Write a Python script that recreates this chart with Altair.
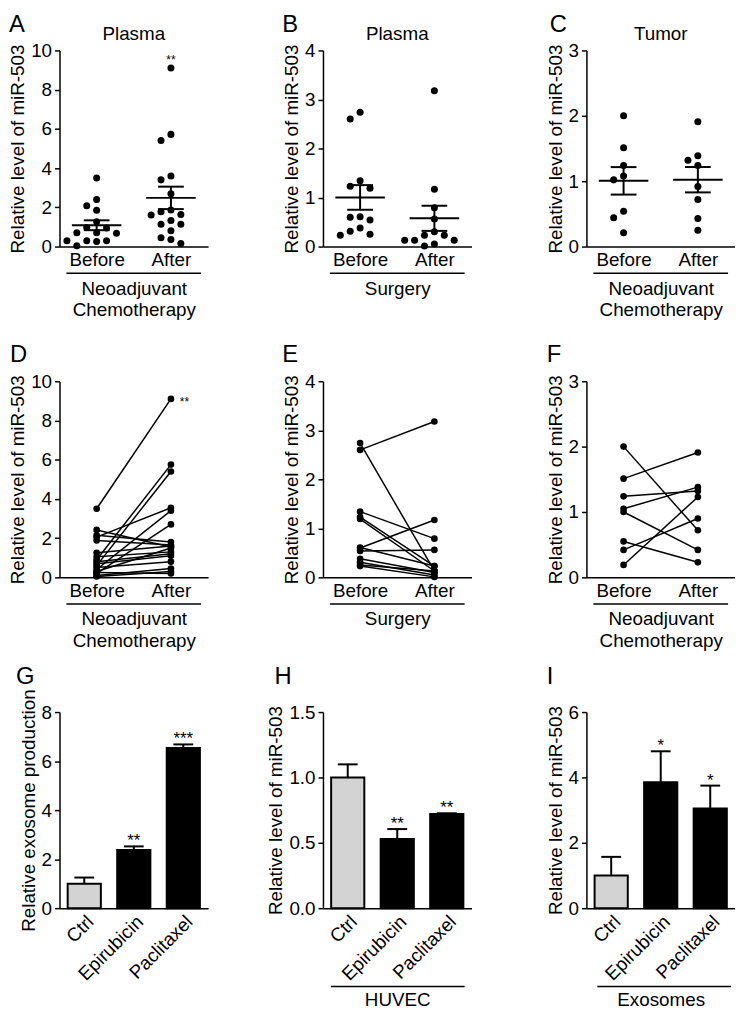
import altair as alt
import pandas as pd

# ---------------- data ----------------
A_before = [3.50, 2.40, 2.08, 1.85, 1.27, 0.97, 0.95, 0.70, 0.68, 0.70, 0.30, 0.29, 0.26, 0.30, 0.04]
A_after = [9.10, 5.72, 5.41, 3.60, 3.40, 2.69, 1.86, 1.78, 1.64, 1.61, 1.33, 1.14, 1.14, 0.81, 0.45, 0.36, 0.15]

B_before = [2.74, 2.60, 1.34, 1.23, 1.19, 0.61, 0.60, 0.54, 0.38, 0.31, 0.25, 0.23]
B_after = [3.18, 1.17, 0.79, 0.56, 0.30, 0.23, 0.23, 0.13, 0.13, 0.13, 0.05, 0.01]

C_before = [2.00, 1.51, 1.24, 1.08, 1.02, 0.54, 0.44, 0.21]
C_after = [1.91, 1.39, 1.32, 1.24, 0.92, 0.72, 0.43, 0.25]

D_before = [3.50, 0.90, 0.60, 2.05, 0.40, 0.20, 2.42, 2.15, 1.88, 1.25, 1.05, 0.80, 0.70, 0.50, 0.30, 0.10, 0.05, 0.25]
D_after = [9.10, 5.75, 5.40, 3.55, 3.40, 2.70, 1.55, 1.80, 1.65, 1.60, 1.30, 1.20, 1.10, 0.80, 1.50, 0.45, 0.30, 0.20]

E_before = [2.60, 2.74, 1.34, 1.23, 1.19, 0.60, 0.54, 0.61, 0.38, 0.31, 0.23, 0.25]
E_after = [3.18, 0.13, 0.79, 0.23, 0.13, 1.17, 0.56, 0.23, 0.10, 0.05, 0.01, 0.13]

F_before = [2.00, 1.51, 1.24, 1.05, 1.00, 0.55, 0.42, 0.19]
F_after = [0.72, 1.91, 1.32, 1.38, 0.42, 0.23, 0.90, 1.23]

bar_cats = ["Ctrl", "Epirubicin", "Paclitaxel"]
G_mean = [1.00, 2.37, 6.53]
G_err = [0.25, 0.15, 0.15]
G_star = ["", "**", "***"]
H_mean = [1.00, 0.53, 0.72]
H_err = [0.10, 0.075, 0.006]
H_star = ["", "**", "**"]
I_mean = [1.00, 3.85, 3.05]
I_err = [0.57, 0.95, 0.70]
I_star = ["", "*", "*"]

YTITLE = "Relative level of miR-503"
NEO = ["Neoadjuvant", "Chemotherapy"]

# ---------------- layout constants ----------------
W, H = 150, 198
FONT = "Liberation Sans"
FS = 19


def swarm_offsets(vals, ymax):
    """Simple beeswarm: returns horizontal offsets (in x data units)."""
    ppu = H / ymax
    placed = []
    offs = [0.0] * len(vals)
    order = sorted(range(len(vals)), key=lambda i: -vals[i])
    for i in order:
        y = vals[i] * ppu
        x = 0.0
        for k in [0, -1, 1, -2, 2, -3, 3, -4, 4]:
            x = k * 10.0
            if all((x - px) ** 2 + (y - py) ** 2 >= 8.5 ** 2 for py, px in placed):
                break
        placed.append((y, x))
        offs[i] = x
    return [o / (W / 2.0) for o in offs]


def one(**kw):
    return pd.DataFrame({k: [v] for k, v in kw.items()})


def letter_layer(letter, dx, dy=-38):
    return alt.Chart(one(t=letter)).mark_text(
        fontSize=24, align="left", baseline="top", font=FONT, color="black"
    ).encode(text="t:N", x=alt.value(dx), y=alt.value(dy))


def top_title_layer(t):
    return alt.Chart(one(t=t)).mark_text(
        fontSize=FS, align="center", baseline="alphabetic", font=FONT, color="black"
    ).encode(text="t:N", x=alt.value(W / 2), y=alt.value(-11))


def bracket_layer(x0, x1, y):
    return alt.Chart(one(a=0)).mark_rule(color="black", strokeWidth=1.5).encode(
        x=alt.value(x0), x2=alt.value(x1), y=alt.value(y)
    )


def xy_enc(ymax, yvals, xtitle):
    xs = alt.Scale(domain=[0, 2], nice=False, zero=False)
    ys = alt.Scale(domain=[0, ymax], nice=False)
    xax = alt.Axis(values=[0.5, 1.5], labelExpr="datum.value < 1 ? 'Before' : 'After'",
                   ticks=False, title=xtitle, labelFlush=False, labelPadding=4,
                   titlePadding=10, titleLineHeight=22)
    yax = alt.Axis(values=yvals, title=YTITLE, format="d")
    X = lambda f: alt.X(f, scale=xs, axis=xax)
    Y = lambda f: alt.Y(f, scale=ys, axis=yax)
    return X, Y


def scatter_panel(before, after, ymax, yvals, letter, ldx, ttl, xtitle, bx, star=None):
    df = pd.DataFrame({
        "pos": [0.5] * len(before) + [1.5] * len(after),
        "v": before + after,
        "off": swarm_offsets(before, ymax) + swarm_offsets(after, ymax),
    })
    X, Y = xy_enc(ymax, yvals, xtitle)
    base = alt.Chart(df)
    pts = base.transform_calculate(px="datum.pos + datum.off").mark_circle(
        size=50, color="black", opacity=1).encode(x=X("px:Q"), y=Y("v:Q"))
    agg = base.transform_aggregate(m="mean(v)", se="stderr(v)", groupby=["pos"]).transform_calculate(
        lo="datum.m - datum.se", hi="datum.m + datum.se")
    rule = agg.mark_rule(color="black", strokeWidth=2).encode(x=X("pos:Q"), y=Y("lo:Q"), y2="hi:Q")
    mean = agg.mark_tick(orient="horizontal", size=50, thickness=2, color="black", opacity=1).encode(
        x=X("pos:Q"), y=Y("m:Q"))
    lo = agg.mark_tick(orient="horizontal", size=26, thickness=2, color="black", opacity=1).encode(
        x=X("pos:Q"), y=Y("lo:Q"))
    hi = agg.mark_tick(orient="horizontal", size=26, thickness=2, color="black", opacity=1).encode(
        x=X("pos:Q"), y=Y("hi:Q"))
    layers = [pts, rule, mean, lo, hi, letter_layer(letter, ldx), top_title_layer(ttl),
              bracket_layer(bx[0], bx[1], H + 27)]
    if star:
        layers.append(alt.Chart(one(pos=1.5, v=max(after), s=star)).mark_text(
            fontSize=12, baseline="alphabetic", dy=-4, font=FONT, color="black").encode(
            x=X("pos:Q"), y=Y("v:Q"), text="s:N"))
    return alt.layer(*layers).properties(width=W, height=H)


def paired_panel(before, after, ymax, yvals, letter, ldx, xtitle, bx, star=None):
    n = len(before)
    df = pd.DataFrame({
        "pair": list(range(n)) * 2,
        "pos": [0.5] * n + [1.5] * n,
        "v": before + after,
    })
    X, Y = xy_enc(ymax, yvals, xtitle)
    base = alt.Chart(df)
    lines = base.mark_line(color="black", strokeWidth=1.5).encode(
        x=X("pos:Q"), y=Y("v:Q"), detail="pair:N")
    pts = base.mark_circle(size=45, color="black", opacity=1).encode(x=X("pos:Q"), y=Y("v:Q"))
    layers = [lines, pts, letter_layer(letter, ldx), bracket_layer(bx[0], bx[1], H + 27)]
    if star:
        layers.append(alt.Chart(one(pos=1.5, v=max(after), s=star)).mark_text(
            fontSize=12, align="left", baseline="alphabetic", dx=9, dy=7, font=FONT,
            color="black").encode(x=X("pos:Q"), y=Y("v:Q"), text="s:N"))
    return alt.layer(*layers).properties(width=W, height=H)


def bar_panel(means, errs, stars, ymax, yvals, yfmt, ytitle, letter, ldx, xtitle=None, bx=None):
    df = pd.DataFrame({"cat": bar_cats, "m": means, "e": errs, "s": stars})
    xs = alt.Scale(domain=bar_cats, paddingInner=0.33, paddingOuter=0.165)
    ys = alt.Scale(domain=[0, ymax], nice=False)
    xax = alt.Axis(labelAngle=-45, ticks=False, title=xtitle, labelPadding=4, titlePadding=7)
    yax = alt.Axis(values=yvals, title=ytitle, format=yfmt)
    X = alt.X("cat:N", scale=xs, axis=xax, sort=bar_cats)
    base = alt.Chart(df).transform_calculate(top="datum.m + datum.e")
    bars = base.mark_bar(stroke="black", strokeWidth=2).encode(
        x=X, y=alt.Y("m:Q", scale=ys, axis=yax),
        color=alt.Color("cat:N", scale=alt.Scale(domain=bar_cats, range=["#d3d3d3", "black", "black"]),
                        legend=None))
    err = base.mark_rule(color="black", strokeWidth=2).encode(
        x=X, y=alt.Y("m:Q", scale=ys, axis=yax), y2="top:Q")
    cap = base.mark_tick(orient="horizontal", size=20, thickness=2, color="black", opacity=1).encode(
        x=X, y=alt.Y("top:Q", scale=ys, axis=yax))
    st = base.mark_text(fontSize=17, baseline="alphabetic", dy=0, font=FONT, color="black").encode(
        x=X, y=alt.Y("top:Q", scale=ys, axis=yax), text="s:N")
    layers = [bars, err, cap, st, letter_layer(letter, ldx, -47)]
    if bx:
        layers.append(bracket_layer(bx[0], bx[1], H + 79))
    return alt.layer(*layers).properties(width=W, height=H)


pA = scatter_panel(A_before, A_after, 10, [0, 2, 4, 6, 8, 10], "A", -51, "Plasma", NEO, (7, 143), star="**")
pB = scatter_panel(B_before, B_after, 4, [0, 1, 2, 3, 4], "B", -41, "Plasma", "Surgery", (7, 143))
pC = scatter_panel(C_before, C_after, 3, [0, 1, 2, 3], "C", -37, "Tumor", NEO, (7, 143))
pD = paired_panel(D_before, D_after, 10, [0, 2, 4, 6, 8, 10], "D", -50, NEO, (7, 143), star="**")
pE = paired_panel(E_before, E_after, 4, [0, 1, 2, 3, 4], "E", -41, "Surgery", (7, 143))
pF = paired_panel(F_before, F_after, 3, [0, 1, 2, 3], "F", -40, NEO, (7, 143))
pG = bar_panel(G_mean, G_err, G_star, 8, [0, 2, 4, 6, 8], "d", "Relative exosome production", "G", -44)
pH = bar_panel(H_mean, H_err, H_star, 1.5, [0, 0.5, 1.0, 1.5], ".1f", YTITLE, "H", -49, "HUVEC", (8, 143))
pI = bar_panel(I_mean, I_err, I_star, 6, [0, 2, 4, 6], "d", YTITLE, "I", -40, "Exosomes", (11, 146))

chart = alt.concat(
    pA, pB, pC, pD, pE, pF, pG, pH, pI,
    columns=3, spacing={"row": 136, "column": 116}, bounds="flush"
).properties(
    padding={"left": 0, "top": 0, "right": 0, "bottom": 0}
).configure(
    font=FONT
).configure_view(
    stroke=None
).configure_axis(
    labelFont=FONT, titleFont=FONT, labelFontSize=FS, titleFontSize=FS,
    titleFontWeight="normal", labelColor="black", titleColor="black",
    domainColor="black", domainWidth=1.5, tickColor="black", tickWidth=1.5,
    tickSize=5, grid=False, labelPadding=3, titlePadding=3
)

chart.save("out.html", embed_options={"renderer": "svg", "actions": False})
